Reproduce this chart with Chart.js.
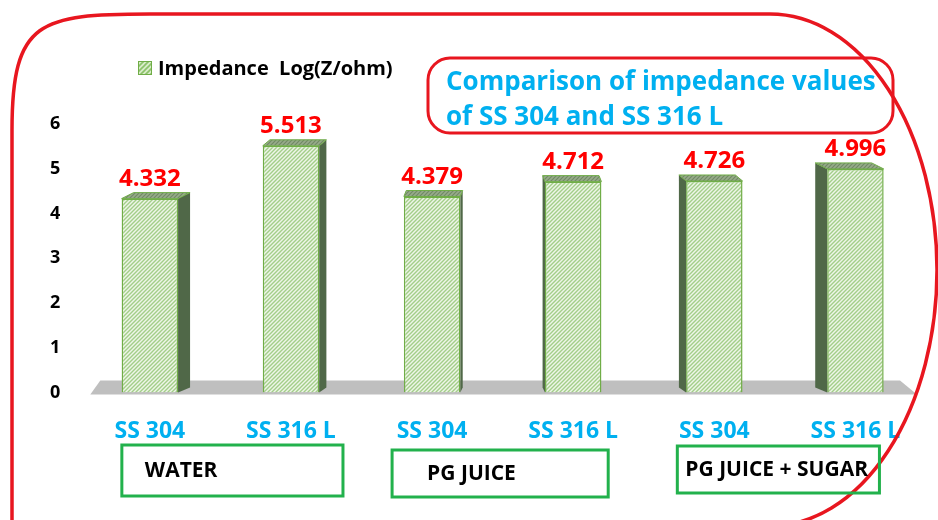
<!DOCTYPE html>
<html>
<head>
<meta charset="utf-8">
<script src="https://cdn.jsdelivr.net/npm/chart.js@4.4.1/dist/chart.umd.min.js"></script>
<style>
    html, body { margin: 0; padding: 0; background: #ffffff; }
    #chart { display: block; }
</style>
</head>
<body>
<canvas id="chart" width="938" height="520"></canvas>
<script>
const categories = ['SS 304', 'SS 316 L', 'SS 304', 'SS 316 L', 'SS 304', 'SS 316 L'];
const impedance = [4.332, 5.513, 4.379, 4.712, 4.726, 4.996];
const yTicks = [0, 1, 2, 3, 4, 5, 6];
const groups = ['WATER', 'PG JUICE', 'PG JUICE + SUGAR'];
const seriesLabel = 'Impedance  Log(Z/ohm)';
const titleLines = ['Comparison of impedance values', 'of SS 304 and SS 316 L'];

const palette = {
    red: '#e8161f',
    valueRed: '#ff0000',
    blue: '#00b0f0',
    green: '#22b14c',
    barEdge: '#70ad47',
    side: '#506848',
    top: '#86a078',
    floor: '#bfbfbf',
};

const FONT = '"Open Sans", "DejaVu Sans", sans-serif';
const canvas = document.getElementById('chart');
const ctx = canvas.getContext('2d');

function hatch(bg, line, size, width) {
    const tile = document.createElement('canvas');
    tile.width = size;
    tile.height = size;
    const g = tile.getContext('2d');
    g.fillStyle = bg;
    g.fillRect(0, 0, size, size);
    g.strokeStyle = line;
    g.lineWidth = width;
    g.beginPath();
    g.moveTo(-1, size + 1);
    g.lineTo(size + 1, -1);
    g.moveTo(-1, 1);
    g.lineTo(1, -1);
    g.moveTo(size - 1, size + 1);
    g.lineTo(size + 1, size - 1);
    g.stroke();
    return ctx.createPattern(tile, 'repeat');
}

const frontFill = hatch('#eef6e8', '#a3ce89', 4, 1.4);
const topFill = hatch('#97ab8a', '#718a65', 4, 1.2);
const swatchFill = hatch('#d9ecc9', '#8cc26a', 5, 1.6);

// floor, 3d sides and tops behind the front faces
const depthBars = {
    id: 'depthBars',
    beforeDatasetsDraw(chart) {
        const { ctx: c, chartArea: area } = chart;
        const base = chart.scales.y.getPixelForValue(0);
        c.save();
        c.fillStyle = palette.floor;
        c.beginPath();
        c.moveTo(area.left + 21, base - 12);
        c.lineTo(area.right - 26, base - 12);
        c.lineTo(area.right - 9, base + 2);
        c.lineTo(area.left + 11, base + 2);
        c.closePath();
        c.fill();

        const mid = (area.left + area.right) / 2;
        chart.getDatasetMeta(0).data.forEach((bar) => {
            const { x, y, width } = bar.getProps(['x', 'y', 'width']);
            const left = x - width / 2;
            const right = x + width / 2;
            const dx = (x - mid) * -0.034;
            const dy = -6;
            const edge = dx >= 0 ? right : left;

            c.fillStyle = palette.side;
            c.beginPath();
            c.moveTo(edge, y);
            c.lineTo(edge + dx, y + dy);
            c.lineTo(edge + dx, base - 5);
            c.lineTo(edge, base);
            c.closePath();
            c.fill();

            c.fillStyle = topFill;
            c.strokeStyle = palette.barEdge;
            c.lineWidth = 1;
            c.beginPath();
            c.moveTo(left, y);
            c.lineTo(left + dx, y + dy);
            c.lineTo(right + dx, y + dy);
            c.lineTo(right, y);
            c.closePath();
            c.fill();
            c.stroke();
        });
        c.restore();
    },
    afterDatasetsDraw(chart) {
        const c = chart.ctx;
        c.save();
        c.font = 'bold 24px ' + FONT;
        c.fillStyle = palette.valueRed;
        c.textAlign = 'center';
        c.textBaseline = 'alphabetic';
        chart.getDatasetMeta(0).data.forEach((bar, i) => {
            c.fillText(impedance[i].toFixed(3), bar.x, bar.y - 13);
        });
        c.restore();
    },
};

const decorations = {
    id: 'decorations',
    afterDraw(chart) {
        const c = chart.ctx;
        const x = chart.scales.x;
        c.save();

        // outer frame
        c.strokeStyle = palette.red;
        c.lineWidth = 3.5;
        c.beginPath();
        c.moveTo(12, 524);
        c.lineTo(12, 130);
        c.bezierCurveTo(12, 20, 40, 14, 150, 14);
        c.lineTo(770, 14);
        c.ellipse(770, 270, 167, 256, 0, -Math.PI / 2, Math.PI / 2);
        c.stroke();

        // legend
        c.fillStyle = swatchFill;
        c.fillRect(138, 61, 14, 14);
        c.strokeStyle = palette.barEdge;
        c.lineWidth = 1;
        c.strokeRect(138.5, 61.5, 13, 13);
        c.fillStyle = '#000000';
        c.font = 'bold 20px ' + FONT;
        c.textAlign = 'left';
        c.textBaseline = 'alphabetic';
        c.fillText(seriesLabel, 158, 75);

        // title box
        c.strokeStyle = palette.red;
        c.lineWidth = 3;
        c.beginPath();
        c.roundRect(428, 58, 465, 75, 22);
        c.stroke();
        c.fillStyle = palette.blue;
        c.font = 'bold 26px ' + FONT;
        c.fillText(titleLines[0], 446, 90);
        c.fillText(titleLines[1], 446, 125);

        // group boxes under each pair of bars
        const boxes = [
            { l: -28, r: 52, top: 445, bottom: 496, pad: 23 },
            { l: -40, r: 35, top: 450, bottom: 497, pad: 35 },
            { l: -37, r: 24, top: 446, bottom: 493, pad: 8 },
        ];
        c.font = 'bold 21px ' + FONT;
        c.textBaseline = 'middle';
        groups.forEach((name, i) => {
            const b = boxes[i];
            const left = x.getPixelForValue(i * 2) + b.l;
            const right = x.getPixelForValue(i * 2 + 1) + b.r;
            c.strokeStyle = palette.green;
            c.lineWidth = 3;
            c.strokeRect(left, b.top, right - left, b.bottom - b.top);
            c.fillStyle = '#000000';
            c.fillText(name, left + b.pad, (b.top + b.bottom) / 2 + 1);
        });
        c.restore();
    },
};

new Chart(canvas, {
    type: 'bar',
    data: {
        labels: categories,
        datasets: [{
            label: seriesLabel,
            data: impedance,
            backgroundColor: frontFill,
            borderColor: palette.barEdge,
            borderWidth: 1.5,
            barPercentage: 0.8,
            categoryPercentage: 0.5,
        }],
    },
    options: {
        responsive: false,
        animation: false,
        devicePixelRatio: 1,
        layout: { padding: { top: 124, left: 31, right: 12, bottom: 50 } },
        scales: {
            x: {
                grid: { display: false, drawTicks: false },
                border: { display: false },
                ticks: {
                    color: palette.blue,
                    font: { family: FONT, size: 23, weight: 'bold' },
                    padding: 25,
                    maxRotation: 0,
                },
            },
            y: {
                min: 0,
                max: 6,
                afterBuildTicks: (scale) => {
                    scale.ticks = yTicks.map((v) => ({ value: v }));
                },
                grid: { display: false, drawTicks: false },
                border: { display: false },
                ticks: {
                    color: '#000000',
                    font: { family: FONT, size: 18, weight: 'bold' },
                    padding: 19,
                },
            },
        },
        plugins: {
            legend: { display: false },
            tooltip: { enabled: false },
        },
    },
    plugins: [depthBars, decorations],
});
</script>
</body>
</html>
